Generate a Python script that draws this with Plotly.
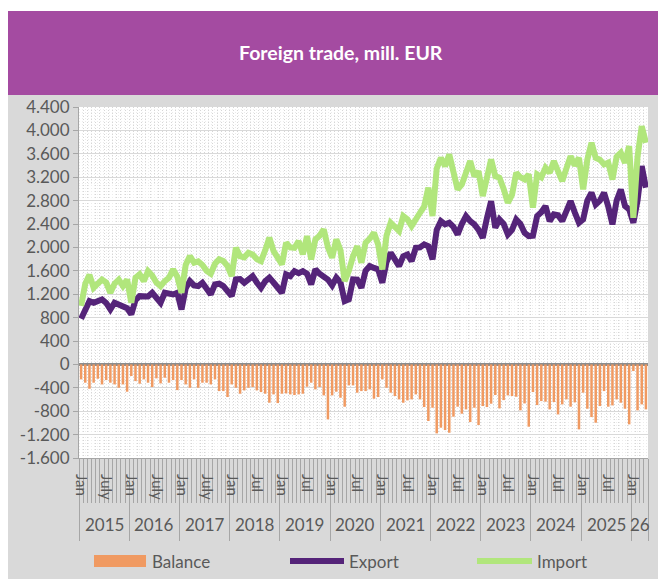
"""
Foreign trade, mill. EUR — monthly export / import / balance, Jan 2015 - Apr 2026.
"""

import plotly.graph_objects as go

# ── Theme constants ────────────────────────────────────────────────────────────
BAND     = "#a44ba1"
BG       = "#d9d9d9"
TEXT     = "#595959"
AXIS     = "#a6a6a6"
EXPORT_C = "#552479"
IMPORT_C = "#b1e67c"
BAL_C    = "#f09a62"
FONT     = "Lato"

# ── Data ───────────────────────────────────────────────────────────────────────
YEARS = [2015, 2016, 2017, 2018, 2019, 2020, 2021, 2022, 2023, 2024, 2025, 2026]
MONTHS_IN_YEAR = [12, 12, 12, 12, 12, 12, 12, 12, 12, 12, 12, 4]
YEAR_LABELS = ["2015", "2016", "2017", "2018", "2019", "2020", "2021", "2022",
               "2023", "2024", "2025", "26"]

EXPORT = [
    780, 950, 1082, 1054, 1080, 1110, 1050, 940, 1054, 1030, 997, 960,
    855, 1100, 1167, 1170, 1160, 1225, 1150, 1054, 1225, 1200, 1196, 1225,
    940, 1300, 1424, 1350, 1338, 1396, 1300, 1196, 1367, 1380, 1338, 1250,
    1167, 1453, 1460, 1396, 1450, 1509, 1400, 1310, 1420, 1481, 1400, 1300,
    1225, 1538, 1509, 1594, 1560, 1594, 1550, 1367, 1624, 1550, 1509, 1450,
    1350, 1481, 1400, 1082, 1111, 1453, 1450, 1310, 1600, 1681, 1650, 1624,
    1396, 1750, 1909, 1800, 1681, 1850, 1880, 1766, 1994, 2000, 2051, 2020,
    1795, 2300, 2449, 2393, 2421, 2350, 2222, 2400, 2535, 2450, 2393, 2300,
    2165, 2500, 2791, 2336, 2478, 2400, 2222, 2300, 2478, 2400, 2250, 2193,
    2200, 2535, 2600, 2706, 2449, 2564, 2550, 2449, 2650, 2791, 2600, 2421,
    2480, 2800, 2934, 2735, 2800, 2934, 2700, 2393, 2800, 2991, 2706, 2650,
    2421, 2800, 3389, 3020,
]

IMPORT = [
    1000, 1380, 1530, 1310, 1380, 1450, 1400, 1225, 1380, 1450, 1340, 1450,
    1054, 1480, 1540, 1424, 1594, 1520, 1400, 1338, 1424, 1480, 1624, 1500,
    1225, 1700, 1851, 1738, 1760, 1700, 1600, 1550, 1720, 1795, 1767, 1680,
    1509, 1994, 1850, 1830, 1909, 1880, 1800, 1765, 1950, 2165, 1938, 1820,
    1709, 2080, 2000, 1994, 2107, 1880, 2193, 1795, 2136, 2200, 2307, 2000,
    1823, 2136, 1950, 1424, 1600, 1850, 2022, 1738, 2080, 2150, 2250, 2050,
    1624, 2200, 2421, 2350, 2279, 2535, 2480, 2364, 2500, 2592, 2700, 3020,
    2535, 3350, 3532, 3389, 3589, 3250, 2991, 3076, 3300, 3475, 3218, 3300,
    2877, 3200, 3504, 3218, 3190, 3000, 2763, 2900, 3276, 3200, 3162, 3250,
    2678, 3247, 3200, 3361, 3276, 3475, 3300, 3133, 3350, 3560, 3400, 3532,
    2991, 3500, 3789, 3532, 3500, 3418, 3450, 3162, 3550, 3618, 3447, 3732,
    2507, 3550, 4073, 3789,
]

BALANCE = [
    -256, -313, -416, -313, -245, -342, -268, -313, -342, -399, -342, -467,
    -199, -285, -330, -256, -313, -387, -239, -325, -228, -313, -268, -439,
    -268, -342, -399, -256, -399, -313, -313, -342, -256, -456, -456, -558,
    -342, -399, -501, -444, -399, -387, -444, -473, -501, -655, -513, -661,
    -501, -496, -513, -524, -513, -501, -382, -313, -427, -387, -530, -940,
    -530, -467, -570, -724, -359, -359, -484, -456, -456, -427, -587, -558,
    -256, -399, -484, -541, -598, -655, -615, -598, -513, -598, -729, -968,
    -741, -1179, -1082, -1122, -1168, -894, -723, -843, -769, -986, -741, -1037,
    -712, -729, -672, -524, -752, -610, -530, -541, -553, -786, -667, -1065,
    -473, -695, -627, -638, -769, -644, -855, -684, -598, -723, -649, -1111,
    -484, -758, -900, -997, -712, -456, -723, -701, -598, -655, -758, -1025,
    -114, -786, -684, -769,
]

Y_TICKS = list(range(-1600, 4401, 400))

# ── Derived positions / tick labels ────────────────────────────────────────────
n = len(EXPORT)
xs = list(range(n))

month_pos, month_text = [], []
year_bounds, year_centers = [-0.5], []
start = 0
for year, cnt in zip(YEARS, MONTHS_IN_YEAR):
    for m in (0, 6):
        if m < cnt:
            month_pos.append(start + m)
            month_text.append("Jan" if m == 0 else ("July" if year <= 2017 else "Jul"))
    year_centers.append(start + (cnt - 1) / 2)
    start += cnt
    year_bounds.append(start - 0.5)

y_text = [f"{v:,}".replace(",", ".") for v in Y_TICKS]


def px_x(p):   # pixel -> paper x
    return (p - 79) / 569


def px_y(p):   # pixel -> paper y
    return (458 - p) / 351


fig = go.Figure()
fig.add_trace(go.Bar(x=xs, y=BALANCE, name="Balance", marker_color=BAL_C,
                     marker_line_width=0, width=0.6))
fig.add_trace(go.Scatter(x=xs, y=EXPORT, name="Export", mode="lines",
                         line=dict(color=EXPORT_C, width=6)))
# import sits on the overlaid month-label axis (same range) so that axis gets drawn
fig.add_trace(go.Scatter(x=xs, y=IMPORT, name="Import", mode="lines",
                         xaxis="x2", yaxis="y",
                         line=dict(color=IMPORT_C, width=6)))

shapes = [
    # white page edges + purple title band
    dict(type="rect", xref="paper", yref="paper", x0=px_x(0), x1=px_x(658),
         y0=px_y(11), y1=px_y(0), fillcolor="white", line_width=0, layer="above"),
    dict(type="rect", xref="paper", yref="paper", x0=px_x(0), x1=px_x(8),
         y0=px_y(579), y1=px_y(0), fillcolor="white", line_width=0, layer="above"),
    dict(type="rect", xref="paper", yref="paper", x0=px_x(8), x1=px_x(658),
         y0=px_y(95), y1=px_y(11), fillcolor=BAND, line_width=0, layer="above"),
    # legend symbols
    dict(type="rect", xref="paper", yref="paper", x0=px_x(94), x1=px_x(146),
         y0=px_y(567), y1=px_y(555), fillcolor=BAL_C, line_width=0),
    dict(type="line", xref="paper", yref="paper", x0=px_x(290), x1=px_x(344),
         y0=px_y(561), y1=px_y(561), line=dict(color=EXPORT_C, width=6)),
    dict(type="line", xref="paper", yref="paper", x0=px_x(477), x1=px_x(532),
         y0=px_y(561), y1=px_y(561), line=dict(color=IMPORT_C, width=6)),
]

annotations = [
    dict(text="<b>Foreign trade, mill. EUR</b>", xref="paper", yref="paper",
         x=px_x(341), y=px_y(52), xanchor="center", yanchor="middle", showarrow=False,
         font=dict(family=FONT, size=19.5, color="white")),
]
for name, xp in (("Balance", 150), ("Export", 347), ("Import", 535)):
    annotations.append(dict(text=name, xref="paper", yref="paper", x=px_x(xp),
                            y=px_y(561), xanchor="left", yanchor="middle", showarrow=False,
                            font=dict(family=FONT, size=17, color=TEXT)))
for lab, c in zip(YEAR_LABELS, year_centers):
    annotations.append(dict(text=lab, xref="x", yref="paper", x=c, y=px_y(524),
                            xanchor="center", yanchor="middle", showarrow=False,
                            font=dict(family=FONT, size=17, color=TEXT)))

fig.update_layout(
    width=658, height=579,
    margin=dict(l=79, r=10, t=107, b=121),
    paper_bgcolor=BG, plot_bgcolor="white",
    font=dict(family=FONT, color=TEXT, size=14),
    showlegend=False, bargap=0.4,
    shapes=shapes, annotations=annotations,
    xaxis=dict(
        range=[-0.5, n - 0.5], showgrid=False, zeroline=False,
        tickmode="array", tickvals=year_bounds, showticklabels=False,
        ticks="outside", ticklen=82, tickcolor=AXIS, tickwidth=1,
        showline=True, linecolor=AXIS, linewidth=1,
        minor=dict(tick0=-0.5, dtick=1, ticks="outside", ticklen=44,
                   tickcolor=AXIS, tickwidth=1, showgrid=True,
                   gridcolor="#d6d6d6", griddash="1px,2px", gridwidth=1),
    ),
    xaxis2=dict(
        overlaying="x", anchor="y", side="bottom", range=[-0.5, n - 0.5],
        showgrid=False, zeroline=False, showline=False,
        tickmode="array", tickvals=month_pos, ticktext=month_text, tickangle=90,
        ticks="outside", ticklen=12, tickcolor="rgba(0,0,0,0)",
        tickfont=dict(family=FONT, size=15, color=TEXT),
    ),
    yaxis=dict(
        range=[-1600, 4400], tickmode="array", tickvals=Y_TICKS, ticktext=y_text,
        showgrid=True, gridcolor="#d9d9d9", gridwidth=1,
        ticks="outside", ticklen=5, tickcolor=AXIS,
        showline=True, linecolor=AXIS, linewidth=1,
        zeroline=True, zerolinecolor="#8c8c8c", zerolinewidth=2.5,
        tickfont=dict(family=FONT, size=17, color=TEXT),
        minor=dict(tick0=0, dtick=50, showgrid=True, gridcolor="#ececec",
                   griddash="1px,2px", gridwidth=1),
    ),
)

fig.write_html("out.html", config={"displayModeBar": False},
               post_script="document.body.style.margin = '0';")
